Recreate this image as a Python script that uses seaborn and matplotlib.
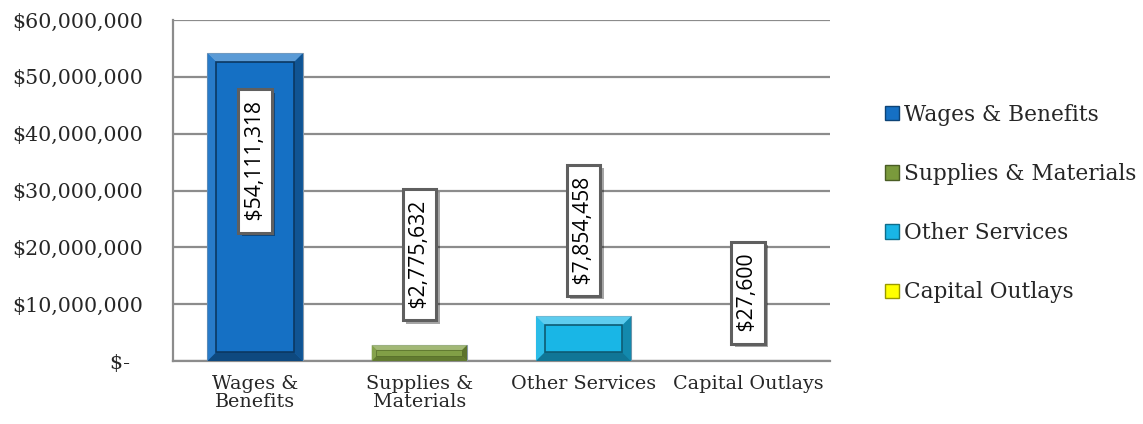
import matplotlib
matplotlib.use("Agg")
import matplotlib.pyplot as plt
import matplotlib.patheffects as pe
from matplotlib.patches import Polygon, Patch
from matplotlib.ticker import FuncFormatter, MultipleLocator
import matplotlib.colors as mcolors
import numpy as np
import seaborn as sns

# ---- data ----
categories = ["Wages & Benefits", "Supplies & Materials", "Other Services", "Capital Outlays"]
tick_labels = ["Wages &\nBenefits", "Supplies &\nMaterials", "Other Services", "Capital Outlays"]
values = [54111318, 2775632, 7854458, 27600]
colors = ["#1570c4", "#7a9a3c", "#19b6e6", "#ffff00"]
# vertical centres of the value label boxes (in dollars)
label_centers = [35.2e6, 18.7e6, 23.0e6, 12.0e6]

sns.set_theme(style="white")
plt.rcParams["font.family"] = ["DejaVu Serif"]

fig = plt.figure(figsize=(11.43, 4.24), dpi=100)
ax = fig.add_axes([173 / 1143, 63 / 424, (830 - 173) / 1143, (361 - 20) / 424])

sns.barplot(x=categories, y=values, hue=categories, palette=colors, saturation=1,
            width=0.58, legend=False, ax=ax, edgecolor="#8a9aaa", linewidth=0.8, zorder=3)

ax.set_ylim(0, 60e6)
ax.set_xlim(-0.5, 3.5)
ax.yaxis.set_major_locator(MultipleLocator(10e6))
ax.yaxis.set_major_formatter(FuncFormatter(
    lambda v, p: "$-  " if v == 0 else "${:,.0f}".format(v)))
ax.set_xticks(range(len(categories)))
ax.set_xticklabels(tick_labels, fontsize=13.8, linespacing=1.0)
ax.tick_params(axis="y", labelsize=14.8, pad=21.5, length=0)
ax.tick_params(axis="x", pad=10, length=0)
ax.set_xlabel("")
ax.set_ylabel("")
ax.grid(axis="y", color="#8c8c8c", linewidth=1.6, zorder=0)
ax.set_axisbelow(True)
for s in ["top", "right"]:
    ax.spines[s].set_visible(False)
for s in ["left", "bottom"]:
    ax.spines[s].set_color("#8c8c8c")
    ax.spines[s].set_linewidth(1.6)


def shade(c, f):
    r = np.array(mcolors.to_rgb(c))
    if f > 0:
        r = r + (1 - r) * f
    else:
        r = r * (1 + f)
    return tuple(np.clip(r, 0, 1))


# bevel effect drawn over the seaborn bars
fig.canvas.draw()
inv = ax.transData.inverted()
for cont, col in zip(ax.containers, colors):
    for p in cont.patches:
        x0, y0 = p.get_x(), p.get_y()
        w, h = p.get_width(), p.get_height()
        X0, Y0 = ax.transData.transform((x0, y0))
        X1, Y1 = ax.transData.transform((x0 + w, y0 + h))
        hp = Y1 - Y0
        if hp < 2:
            continue
        b = min(9.0, 0.3 * hp)
        outer = [(X0, Y0), (X1, Y0), (X1, Y1), (X0, Y1)]
        inner = [(X0 + b, Y0 + b), (X1 - b, Y0 + b), (X1 - b, Y1 - b), (X0 + b, Y1 - b)]
        small = hp < 25
        faces = [
            ([outer[3], outer[2], inner[2], inner[3]], shade(col, 0.3)),    # top
            ([outer[0], outer[3], inner[3], inner[0]], shade(col, 0.08)),   # left
            ([outer[1], outer[2], inner[2], inner[1]], shade(col, -0.25)),  # right
            ([outer[0], outer[1], inner[1], inner[0]], shade(col, -0.2 if small else -0.35)),
            (inner, shade(col, 0.05 if small else 0.0)),
        ]
        for pts, fc in faces:
            d = inv.transform(np.array(pts))
            ax.add_patch(Polygon(d, closed=True, facecolor=fc, edgecolor="none", zorder=4))
        d = inv.transform(np.array(inner))
        ax.add_patch(Polygon(d, closed=True, facecolor="none",
                             edgecolor=shade(col, -0.3 if small else -0.5),
                             linewidth=0.5 if small else 1.2, zorder=5))

# value labels
for i, (v, yc) in enumerate(zip(values, label_centers)):
    t = ax.text(i, yc, " ${:,.0f} ".format(v), rotation=90, ha="center", va="center",
                fontsize=15.2, family=["Open Sans", "DejaVu Sans"], color="black", zorder=7,
                bbox=dict(boxstyle="square,pad=0.3", facecolor="white",
                          edgecolor="#5f5f5f", linewidth=2.2))
    t.get_bbox_patch().set_path_effects([
        pe.SimplePatchShadow(offset=(2.5, -2.5), shadow_rgbFace="black", alpha=0.35),
        pe.Normal()])

# legend
handles = [Patch(facecolor=c, edgecolor=shade(c, -0.4), linewidth=1.0) for c in colors]
fig.legend(handles, categories, loc="upper left", bbox_to_anchor=(876 / 1143, 1 - 95 / 424),
           frameon=False, fontsize=15.6, handlelength=0.65, handleheight=0.65,
           handletextpad=0.25, labelspacing=1.72, borderaxespad=0)

fig.savefig("out.png", dpi=100)
